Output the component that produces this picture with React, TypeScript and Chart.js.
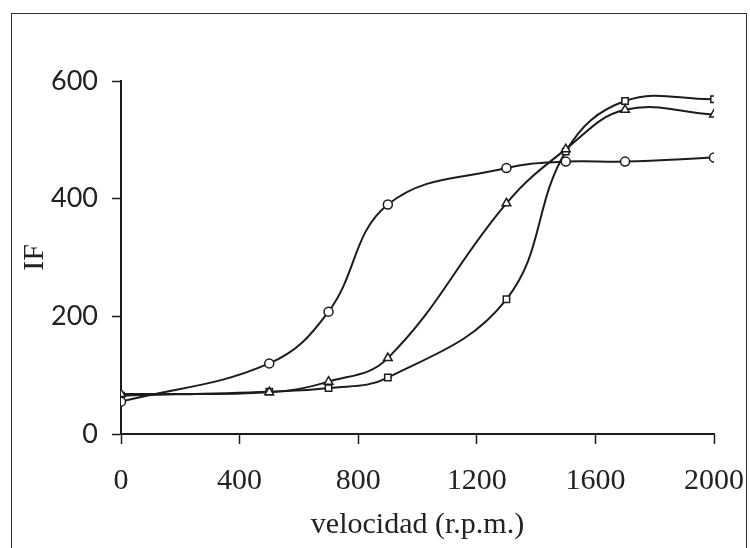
import React, { useEffect, useRef } from "react";
import { Chart, registerables } from "chart.js";

Chart.register(...registerables);

const speeds = [0, 500, 700, 900, 1300, 1500, 1700, 2000];
const seriesCircle = [55, 120, 208, 390, 452, 463, 463, 470];
const seriesTriangle = [68, 71, 89, 129, 392, 484, 551, 543];
const seriesSquare = [65, 72, 78, 96, 229, 480, 566, 569];
const xTicks = [0, 400, 800, 1200, 1600, 2000];
const yTicks = [0, 200, 400, 600];
const xTitle = "velocidad (r.p.m.)";
const yTitle = "IF";

const INK = "#1c1c1c";

function toPoints(values: number[]) {
  return speeds.map((x, i) => ({ x, y: values[i] }));
}

export default function App() {
  const ref = useRef<HTMLCanvasElement | null>(null);

  useEffect(() => {
    if (!ref.current) return;
    const common = {
      borderColor: INK,
      borderWidth: 2,
      pointBackgroundColor: "#ffffff",
      pointBorderColor: INK,
      pointBorderWidth: 1.5,
      pointRadius: 4.5,
      tension: 0.4,
      fill: false,
    };
    const chart = new Chart(ref.current, {
      type: "line",
      data: {
        datasets: [
          { ...common, label: "circle", data: toPoints(seriesCircle), pointStyle: "circle" },
          { ...common, label: "triangle", data: toPoints(seriesTriangle), pointStyle: "triangle", pointRadius: 5 },
          { ...common, label: "square", data: toPoints(seriesSquare), pointStyle: "rect", pointRadius: 4.5 },
        ],
      },
      options: {
        responsive: false,
        animation: false,
        layout: { padding: { left: 0, top: 81, right: 36, bottom: 0 } },
        plugins: { legend: { display: false }, tooltip: { enabled: false } },
        scales: {
          x: {
            type: "linear",
            min: 0,
            max: 2000,
            afterBuildTicks: (axis: any) => {
              axis.ticks = xTicks.map((v) => ({ value: v }));
            },
            afterFit: (axis: any) => {
              axis.height = 114;
              axis.paddingLeft = 0;
              axis.paddingRight = 0;
            },
            grid: {
              drawOnChartArea: false,
              drawTicks: true,
              tickLength: 10,
              tickColor: INK,
              tickWidth: 1.5,
            },
            border: { display: true, color: INK, width: 2 },
            ticks: {
              color: "#222",
              padding: 19,
              maxRotation: 0,
              autoSkip: false,
              callback: (v: any) => String(v),
              font: { family: "'Liberation Serif', 'Times New Roman', serif", size: 30 },
            },
            title: {
              display: true,
              text: xTitle,
              color: "#222",
              padding: { top: 0, bottom: 5 },
              font: { family: "'Liberation Serif', 'Times New Roman', serif", size: 30 },
            },
          },
          y: {
            type: "linear",
            min: 0,
            max: 600,
            afterBuildTicks: (axis: any) => {
              axis.ticks = yTicks.map((v) => ({ value: v }));
            },
            afterFit: (axis: any) => {
              axis.width = 121;
              axis.paddingTop = 0;
              axis.paddingBottom = 0;
            },
            grid: {
              drawOnChartArea: false,
              drawTicks: true,
              tickLength: 9,
              tickColor: INK,
              tickWidth: 1.5,
            },
            border: { display: true, color: INK, width: 2 },
            ticks: {
              color: "#222",
              padding: 14,
              autoSkip: false,
              callback: (v: any) => String(v),
              font: { family: "Lato, 'Open Sans', sans-serif", size: 27 },
            },
            title: {
              display: true,
              text: yTitle,
              color: "#222",
              padding: { top: 17, bottom: 0 },
              font: { family: "'Liberation Serif', 'Times New Roman', serif", size: 30 },
            },
          },
        },
      },
    } as any);
    return () => chart.destroy();
  }, []);

  return (
    <div style={{ position: "fixed", left: 0, top: 0, width: 750, height: 548, background: "#fff", overflow: "hidden" }}>
      <div
        style={{
          position: "absolute",
          left: 11,
          top: 13,
          width: 736,
          height: 600,
          border: "1.5px solid #333",
          boxSizing: "border-box",
        }}
      />
      <canvas ref={ref} width={750} height={548} style={{ position: "absolute", left: 0, top: 0 }} />
    </div>
  );
}
